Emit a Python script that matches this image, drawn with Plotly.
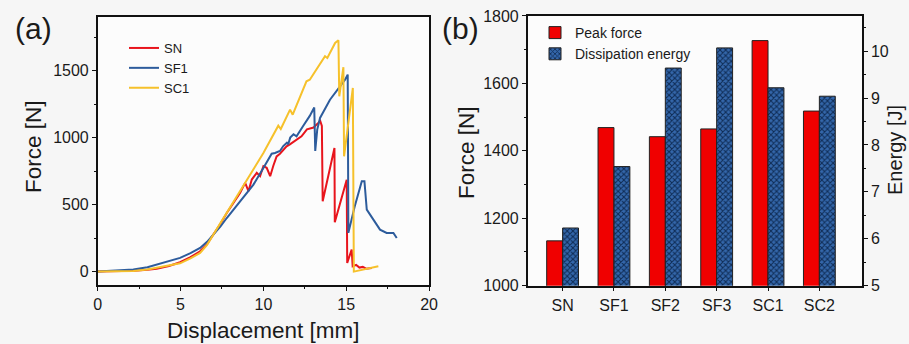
import plotly.graph_objects as go

# ---- data ----
sn_x = [0, 1.5, 2.2, 3.0, 3.56, 4.3, 4.97, 5.6, 6.18, 6.6, 6.98, 7.4, 7.79, 8.2, 8.59, 8.9, 9.1, 9.3,
        9.6, 9.8, 10.0, 10.2, 10.41, 10.6, 10.8, 11.0, 11.4, 11.6, 12.0, 12.3, 12.63, 13.03, 13.33,
        13.43, 13.53, 13.58, 14.29, 14.31, 15.03, 15.06, 15.33, 15.39, 15.6, 15.8, 16.0, 16.2, 16.54]
sn_f = [0, 3, 6, 13, 22, 42, 70, 108, 152, 205, 276, 355, 438, 515, 587, 662, 600, 687,
        737, 712, 787, 775, 712, 790, 860, 880, 935, 950, 985, 1010, 1062, 1075, 1112,
        1125, 1087, 525, 923, 368, 686, 65, 164, 40, 50, 30, 35, 22, 27]

sf1_x = [0, 1.5, 2.15, 3.0, 3.56, 4.3, 4.97, 5.6, 6.18, 6.6, 6.98, 7.4, 7.79, 8.2, 8.59, 9.0, 9.4,
         10.0, 10.5, 10.7, 11.0, 11.2, 11.42, 11.5, 11.62, 11.82, 12.0, 12.4, 12.8, 13.07, 13.13,
         13.25, 13.42, 14.02, 14.63, 14.93, 15.09, 15.13, 15.5, 15.94, 16.1, 16.24, 16.64, 17.04,
         17.44, 17.85, 18.05]
sf1_f = [0, 7, 15, 33, 52, 78, 102, 138, 177, 222, 276, 335, 400, 462, 525, 587, 649,
         773, 880, 885, 900, 937, 962, 950, 1000, 1025, 1010, 1087, 1162, 1225, 900,
         1060, 1147, 1283, 1383, 1432, 1470, 289, 480, 674, 674, 463, 388, 313,
         288, 288, 251]

sc1_x = [0, 1.5, 2.15, 3.0, 3.56, 4.3, 4.97, 5.6, 6.18, 6.6, 6.98, 7.4, 7.79, 8.2, 8.59, 8.99, 10.0,
         10.9, 11.05, 11.61, 11.77, 12.6, 12.8, 13.72, 13.86, 14.33, 14.53, 14.58, 14.83, 14.87,
         15.4, 15.46, 16.0, 16.5, 16.94]
sc1_f = [0, 2, 5, 15, 27, 45, 62, 98, 139, 200, 276, 355, 438, 520, 599, 674, 885,
         1089, 1064, 1209, 1171, 1420, 1432, 1607, 1594, 1706, 1726, 1308, 1525, 860,
         1371, 0, 15, 28, 40]

samples = ["SN", "SF1", "SF2", "SF3", "SC1", "SC2"]
peak_force = [1133, 1469, 1442, 1465, 1727, 1518]
dissipation_energy = [6.23, 7.54, 9.64, 10.07, 9.22, 9.04]

FONT = "Arial, Liberation Sans, sans-serif"
INK = "#1a1a1a"

fig = go.Figure()
fig.add_trace(go.Scatter(x=sn_x, y=sn_f, mode="lines", name="SN",
                         line=dict(color="#e8141c", width=2), xaxis="x", yaxis="y", legend="legend"))
fig.add_trace(go.Scatter(x=sf1_x, y=sf1_f, mode="lines", name="SF1",
                         line=dict(color="#2d5c9c", width=2), xaxis="x", yaxis="y", legend="legend"))
fig.add_trace(go.Scatter(x=sc1_x, y=sc1_f, mode="lines", name="SC1",
                         line=dict(color="#f6c12b", width=2), xaxis="x", yaxis="y", legend="legend"))

fig.add_trace(go.Bar(x=samples, y=peak_force, name="Peak force", xaxis="x2", yaxis="y2",
                     width=0.31, offset=-0.31,
                     marker=dict(color="#f00000", line=dict(color="#222222", width=1)),
                     legend="legend2"))
fig.add_trace(go.Bar(x=samples, y=dissipation_energy, name="Dissipation energy", xaxis="x2", yaxis="y3",
                     width=0.31, offset=0,
                     marker=dict(color="#2a5a9c", line=dict(color="#222222", width=1),
                                 pattern=dict(shape="x", fgcolor="#0f2c55", bgcolor="#3467ab",
                                              size=4, solidity=0.45, fillmode="replace")),
                     legend="legend2"))

axis_common = dict(showgrid=False, zeroline=False, showline=True, linecolor="#111111", linewidth=1.5,
                   ticks="outside", ticklen=4, tickwidth=1.2, tickcolor="#111111", automargin=False,
                   tickfont=dict(family=FONT, size=16, color=INK))

fig.update_layout(
    width=909, height=344,
    margin=dict(l=0, r=0, t=0, b=0),
    paper_bgcolor="#f6f6f6", plot_bgcolor="#fcfcfc",
    barmode="overlay",
    font=dict(family=FONT, color=INK),
    xaxis=dict(axis_common, domain=[0.1075, 0.472], anchor="y", range=[0, 20], dtick=5,
               mirror=True, minor=dict(dtick=2.5, ticklen=2, ticks="outside", tickcolor="#111111")),
    yaxis=dict(axis_common, domain=[0.1715, 0.9506], anchor="x", range=[-100, 1900], dtick=500,
               mirror=True, minor=dict(dtick=250, ticklen=2, ticks="outside", tickcolor="#111111")),
    xaxis2=dict(axis_common, domain=[0.5805, 0.9483], anchor="y2", type="category",
                range=[-0.68, 5.83], mirror=True),
    yaxis2=dict(axis_common, domain=[0.1695, 0.9535], anchor="x2", range=[1000, 1800], dtick=200,
                minor=dict(dtick=100, ticklen=2, ticks="outside", tickcolor="#111111")),
    yaxis3=dict(axis_common, overlaying="y2", side="right", anchor="x2", range=[5, 10.75], dtick=1,
                minor=dict(dtick=0.5, ticklen=2, ticks="outside", tickcolor="#111111")),
    legend=dict(x=124 / 909, y=1 - 33 / 344, xanchor="left", yanchor="top",
                bgcolor="rgba(0,0,0,0)", font=dict(family=FONT, size=13, color=INK),
                tracegroupgap=0, itemwidth=30),
    legend2=dict(x=535 / 909, y=1 - 17 / 344, xanchor="left", yanchor="top",
                 bgcolor="rgba(0,0,0,0)", font=dict(family=FONT, size=14, color=INK),
                 tracegroupgap=0, itemwidth=30),
    showlegend=True,
)

ann = [
    dict(text="(a)", x=33 / 909, y=1 - 28 / 344, font=dict(size=30)),
    dict(text="(b)", x=460 / 909, y=1 - 28 / 344, font=dict(size=30)),
    dict(text="Displacement [mm]", x=263 / 909, y=1 - 330 / 344, font=dict(size=22.5)),
    dict(text="Force [N]", x=33 / 909, y=1 - 147 / 344, font=dict(size=22.5), textangle=-90),
    dict(text="Force [N]", x=466 / 909, y=1 - 152 / 344, font=dict(size=22.5), textangle=-90),
    dict(text="Energy [J]", x=895 / 909, y=1 - 150 / 344, font=dict(size=20), textangle=-90),
]
for a in ann:
    a["font"].update(family=FONT, color=INK)
    fig.add_annotation(xref="paper", yref="paper", showarrow=False,
                       xanchor="center", yanchor="middle", **a)

fig.write_html("out.html", config={"displayModeBar": False},
               post_script="document.body.style.margin='0';document.body.style.overflow='hidden';")
